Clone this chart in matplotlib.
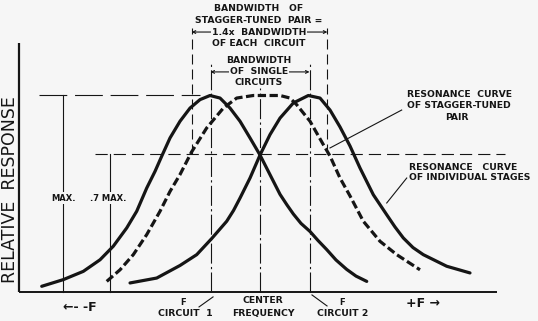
import numpy as np
import matplotlib.pyplot as plt

# Frequency in units of half the single-circuit bandwidth (0 = center frequency),
# response relative to the peak of one circuit.
x_circuit1 = [-4.41, -3.974, -3.57, -3.232, -2.964, -2.693, -2.491, -2.289, -2.121,
              -1.986, -1.818, -1.616, -1.414, -1.212, -1.01, -0.808, -0.606, -0.404,
              -0.202, 0.0, 0.202, 0.404, 0.545, 0.673, 0.828, 1.01, 1.172, 1.347,
              1.535, 1.751, 1.939, 2.156]
y_circuit1 = [0.029, 0.063, 0.105, 0.164, 0.233, 0.326, 0.411, 0.529, 0.614,
              0.691, 0.784, 0.869, 0.936, 0.979, 1.0, 0.987, 0.936, 0.869,
              0.784, 0.697, 0.597, 0.497, 0.443, 0.397, 0.349, 0.308, 0.262, 0.216,
              0.163, 0.115, 0.081, 0.054]

x_circuit2 = [-2.626, -2.087, -1.616, -1.279, -0.976, -0.673, -0.535, -0.404, -0.202,
              0.0, 0.202, 0.404, 0.673, 0.976, 1.212, 1.414, 1.616, 1.818, 2.02,
              2.289, 2.56, 2.727, 2.895, 3.091, 3.299, 3.772, 4.242]
y_circuit2 = [0.046, 0.071, 0.135, 0.19, 0.272, 0.36, 0.415, 0.478, 0.58,
              0.697, 0.801, 0.885, 0.962, 1.0, 0.987, 0.926, 0.84, 0.743, 0.631,
              0.495, 0.393, 0.331, 0.275, 0.226, 0.19, 0.131, 0.097]

x_pair = [-3.097, -2.828, -2.56, -2.289, -2.02, -1.818, -1.616, -1.384, -1.077,
          -0.741, -0.471, -0.135, 0.121, 0.404, 0.606, 0.741, 1.01, 1.279, 1.414,
          1.616, 1.818, 2.087, 2.424, 2.762, 3.232]
y_pair = [0.054, 0.113, 0.19, 0.292, 0.411, 0.512, 0.598, 0.712, 0.835,
          0.936, 0.987, 1.0, 1.0, 1.0, 0.987, 0.953, 0.869, 0.75, 0.692,
          0.58, 0.489, 0.36, 0.258, 0.19, 0.113]

f_circuit1 = -1.0
f_circuit2 = 1.0
f_center = 0.0
level_max = 1.0
level_07 = 0.7
pair_edges = [-1.38, 1.36]

INK = "#151515"
PAPER = "#f6f6f6"

fig = plt.figure(figsize=(5.38, 3.21), dpi=100, facecolor=PAPER)
ax = fig.add_axes([0, 0, 1, 1])
ax.set_facecolor(PAPER)
ax.set_xlim(-5.253, 5.616)
ax.set_ylim(-0.1476, 1.486)
ax.axis("off")

thin = 0.8
font = dict(fontfamily="DejaVu Sans", fontweight="bold", color=INK)

# axes of the drawing
ax.plot([-4.869, -4.869], [0, 1.267], color=INK, lw=1.6, solid_capstyle="butt")
ax.plot([-4.869, 4.788], [0, 0], color=INK, lw=1.4, solid_capstyle="butt")

# reference levels
ax.plot([-4.465, -1.212], [level_max, level_max], color=INK, lw=thin, ls=(0, (25, 7)))
ax.plot([-3.333, 4.949], [level_07, level_07], color=INK, lw=thin, ls=(0, (11, 5.4)))
ax.plot([-3.98, -3.98], [0, level_max], color=INK, lw=thin)
ax.plot([-3.03, -3.03], [0, level_07], color=INK, lw=thin)
ax.text(-3.98, 0.478, "MAX.", ha="center", va="center", fontsize=6,
        bbox=dict(fc=PAPER, ec="none", pad=1.2), **font)
ax.text(-3.07, 0.478, ".7 MAX.", ha="center", va="center", fontsize=6,
        bbox=dict(fc=PAPER, ec="none", pad=1.2), **font)

# tuning frequencies
ax.plot([f_center, f_center], [0, 1.038], color=INK, lw=thin, ls=(0, (18, 3, 2, 3)))
for f in (f_circuit1, f_circuit2):
    ax.plot([f, f], [0, 1.17], color=INK, lw=thin, ls=(0, (18, 3, 2, 3)))
for f in pair_edges:
    ax.plot([f, f], [level_07, 1.344], color=INK, lw=thin, ls=(0, (9, 4.5)))

# resonance curves
ax.plot(x_circuit1, y_circuit1, color=INK, lw=2.3, solid_joinstyle="round",
        solid_capstyle="round")
ax.plot(x_circuit2, y_circuit2, color=INK, lw=2.3, solid_joinstyle="round",
        solid_capstyle="round")
ax.plot(x_pair, y_pair, color=INK, lw=2.3, ls=(0, (2.6, 1.1)))

# bandwidth brackets
arrow = dict(arrowstyle="<->", color=INK, lw=thin, shrinkA=0, shrinkB=0,
             mutation_scale=5)
ax.annotate("", xy=(pair_edges[0], 1.323), xytext=(pair_edges[1], 1.323),
            arrowprops=arrow)
ax.annotate("", xy=(f_circuit1, 1.12), xytext=(f_circuit2, 1.12),
            arrowprops=arrow)

top_lines = [("BANDWIDTH   OF", 1.445), ("STAGGER-TUNED  PAIR =", 1.384),
             ("1.4x  BANDWIDTH", 1.323), ("OF EACH  CIRCUIT", 1.267),
             ("BANDWIDTH", 1.176), ("OF  SINGLE", 1.12), ("CIRCUITS", 1.064)]
for label, yy in top_lines:
    ax.text(-0.02, yy, label, ha="center", va="center", fontsize=6.7,
            bbox=dict(fc=PAPER, ec="none", pad=0.6), **font)

# curve labels with leaders
ax.text(2.97, 1.003, "RESONANCE  CURVE", ha="left", va="center", fontsize=6.7, **font)
ax.text(2.97, 0.947, "OF STAGGER-TUNED", ha="left", va="center", fontsize=6.7, **font)
ax.text(3.98, 0.89, "PAIR", ha="center", va="center", fontsize=6.7, **font)
ax.plot([2.862, 1.414], [0.926, 0.733], color=INK, lw=thin)

ax.text(3.01, 0.636, "RESONANCE   CURVE", ha="left", va="center", fontsize=6.7, **font)
ax.text(3.01, 0.585, "OF INDIVIDUAL STAGES", ha="left", va="center", fontsize=6.7,
        **font)
ax.plot([2.964, 2.56], [0.58, 0.453], color=INK, lw=thin)

# frequency axis labels
ax.text(-3.636, -0.081, "\u2190- -F", ha="center", va="center", fontsize=9, **font)
ax.text(3.293, -0.056, "+F \u2192", ha="center", va="center", fontsize=9, **font)
ax.text(-1.556, -0.051, "F", ha="center", va="center", fontsize=6, **font)
ax.text(-1.515, -0.107, "CIRCUIT  1", ha="center", va="center", fontsize=6.7, **font)
ax.plot([-1.232, -0.949], [-0.076, -0.025], color=INK, lw=thin)
ax.text(0.06, -0.041, "CENTER", ha="center", va="center", fontsize=6.7, **font)
ax.text(0.06, -0.107, "FREQUENCY", ha="center", va="center", fontsize=6.7, **font)
ax.text(1.657, -0.051, "F", ha="center", va="center", fontsize=6, **font)
ax.text(1.677, -0.107, "CIRCUIT 2", ha="center", va="center", fontsize=6.7, **font)
ax.plot([1.05, 1.354], [-0.015, -0.071], color=INK, lw=thin)

ax.text(-5.05, 0.519, "RELATIVE  RESPONSE", rotation=90, ha="center", va="center",
        fontsize=12.5, fontfamily="DejaVu Sans", color=INK)

fig.savefig("out.png", dpi=100, facecolor=PAPER)
